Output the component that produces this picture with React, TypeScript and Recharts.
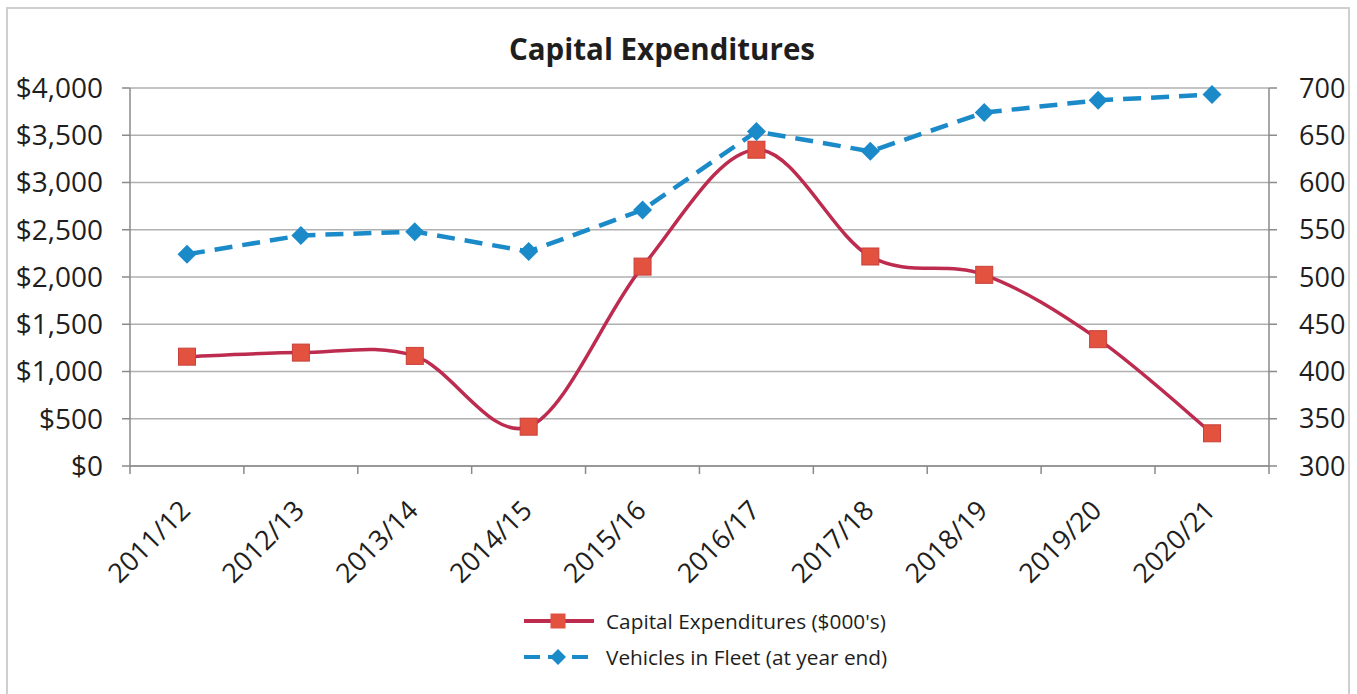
import React from "react";
import { LineChart, Line, XAxis, YAxis, CartesianGrid, Legend } from "recharts";

const years = ["2011/12", "2012/13", "2013/14", "2014/15", "2015/16", "2016/17", "2017/18", "2018/19", "2019/20", "2020/21"];
const capex = [1157, 1200, 1165, 416, 2110, 3347, 2217, 2023, 1342, 346];
const vehicles = [524, 544, 548, 527, 571, 654, 633, 674, 687, 693];
const leftTicks = [0, 500, 1000, 1500, 2000, 2500, 3000, 3500, 4000];
const rightTicks = [300, 350, 400, 450, 500, 550, 600, 650, 700];

const data = years.map((y, i) => ({ year: y, capex: capex[i], vehicles: vehicles[i] }));

const RED = "#bd2b4f";
const RED_FILL = "#e2523f";
const BLUE = "#1a8ac9";
const AXIS = "#8a8a8a";
const GRID = "#b0b0b0";
const FONT = "'Open Sans', sans-serif";

// Excel-like smoothed line (Catmull-Rom bezier)
const excelSmooth = (context: any) => {
  let pts: number[][] = [];
  return {
    areaStart() {},
    areaEnd() {},
    lineStart() {
      pts = [];
    },
    point(x: number, y: number) {
      pts.push([+x, +y]);
    },
    lineEnd() {
      if (!pts.length) return;
      context.moveTo(pts[0][0], pts[0][1]);
      for (let i = 0; i < pts.length - 1; i++) {
        const p0 = pts[i - 1] || pts[i];
        const p1 = pts[i];
        const p2 = pts[i + 1];
        const p3 = pts[i + 2] || pts[i + 1];
        context.bezierCurveTo(
          p1[0] + (p2[0] - p0[0]) / 6,
          p1[1] + (p2[1] - p0[1]) / 6,
          p2[0] - (p3[0] - p1[0]) / 6,
          p2[1] - (p3[1] - p1[1]) / 6,
          p2[0],
          p2[1]
        );
      }
    },
  };
};

const SquareDot = (props: any) => {
  const { cx, cy } = props;
  if (cx == null || cy == null) return null;
  const s = 17;
  return <rect x={cx - s / 2} y={cy - s / 2} width={s} height={s} fill={RED_FILL} stroke="#c8403a" strokeWidth={1} />;
};

const DiamondDot = (props: any) => {
  const { cx, cy } = props;
  if (cx == null || cy == null) return null;
  const r = 9.5;
  return <polygon points={`${cx},${cy - r} ${cx + r},${cy} ${cx},${cy + r} ${cx - r},${cy}`} fill={BLUE} />;
};

const HALF = 57;

const XTick = (props: any) => {
  const { x, y, index, visibleTicksCount } = props;
  const ax = x + 5;
  const ay = y + 46;
  return (
    <g>
      <line x1={x - HALF} x2={x - HALF} y1={y} y2={y + 8} stroke={AXIS} strokeWidth={1.5} />
      {index === (visibleTicksCount ?? years.length) - 1 && (
        <line x1={x + HALF} x2={x + HALF} y1={y} y2={y + 8} stroke={AXIS} strokeWidth={1.5} />
      )}
      <text
        x={ax}
        y={ay}
        transform={`rotate(-45, ${ax}, ${ay})`}
        textAnchor="end"
        fontSize={27}
        fontFamily={FONT}
        fill="#1e1e1e"
      >
        {props.payload.value}
      </text>
    </g>
  );
};

const LegendContent = () => (
  <div style={{ fontFamily: FONT, fontSize: 20.8, color: "#1e1e1e" }}>
    <div style={{ display: "flex", alignItems: "center", height: 36 }}>
      <svg width={80} height={24}>
        <line x1={2} x2={72} y1={12} y2={12} stroke={RED} strokeWidth={4} />
        <rect x={28.5} y={4.5} width={15} height={15} fill={RED_FILL} />
      </svg>
      <span style={{ marginLeft: 4 }}>Capital Expenditures ($000's)</span>
    </div>
    <div style={{ display: "flex", alignItems: "center", height: 36 }}>
      <svg width={80} height={24}>
        <line x1={2} x2={72} y1={12} y2={12} stroke={BLUE} strokeWidth={4} strokeDasharray="16 8" />
        <polygon points="36,4 44,12 36,20 28,12" fill={BLUE} />
      </svg>
      <span style={{ marginLeft: 4 }}>Vehicles in Fleet (at year end)</span>
    </div>
  </div>
);

export default function App() {
  return (
    <div style={{ position: "absolute", left: 0, top: 0, width: 1357, height: 694, background: "#fff", overflow: "hidden" }}>
      <div
        style={{
          position: "absolute",
          left: 6,
          top: 7,
          width: 1344,
          height: 720,
          border: "2px solid #cfcfcf",
          boxSizing: "border-box",
        }}
      />
      <div
        style={{
          position: "absolute",
          left: 0,
          width: 1324,
          top: 29,
          textAlign: "center",
          fontFamily: FONT,
          fontWeight: 700,
          fontSize: 29.5,
          color: "#1e1e1e",
          lineHeight: "40px",
        }}
      >
        Capital Expenditures
      </div>
      <div style={{ position: "absolute", left: 0, top: 0 }}>
        <LineChart width={1357} height={694} data={data} margin={{ top: 88, right: 0, left: 0, bottom: 0 }}>
          <CartesianGrid yAxisId="left" vertical={false} stroke={GRID} strokeWidth={1.5} />
          <XAxis
            dataKey="year"
            yAxisId="left"
            height={228}
            tick={<XTick />}
            tickLine={false}
            tickSize={0}
            tickMargin={0}
            padding={{ left: HALF, right: HALF }}
            axisLine={{ stroke: AXIS, strokeWidth: 1.5 }}
            interval={0}
          />
          <YAxis
            yAxisId="left"
            width={130}
            domain={[0, 4000]}
            ticks={leftTicks}
            tickFormatter={(v: number) => "$" + v.toLocaleString("en-US")}
            tick={{ fontSize: 28, fontFamily: FONT, fill: "#1e1e1e" }}
            tickSize={8}
            tickMargin={19}
            tickLine={{ stroke: AXIS, strokeWidth: 1.5 }}
            axisLine={{ stroke: AXIS, strokeWidth: 1.5 }}
          />
          <YAxis
            yAxisId="right"
            orientation="right"
            width={88}
            domain={[300, 700]}
            ticks={rightTicks}
            tick={{ fontSize: 27, fontFamily: FONT, fill: "#1e1e1e" }}
            tickSize={8}
            tickMargin={22}
            tickLine={{ stroke: AXIS, strokeWidth: 1.5 }}
            axisLine={{ stroke: AXIS, strokeWidth: 1.5 }}
          />
          <Legend
            layout="vertical"
            verticalAlign="middle"
            align="center"
            content={<LegendContent />}
            wrapperStyle={{ position: "absolute", left: 522, top: 603, width: "auto" }}
          />
          <Line
            yAxisId="left"
            dataKey="capex"
            name="Capital Expenditures ($000's)"
            type={excelSmooth as any}
            stroke={RED}
            strokeWidth={3.5}
            dot={<SquareDot />}
            activeDot={false}
            isAnimationActive={false}
          />
          <Line
            yAxisId="right"
            dataKey="vehicles"
            name="Vehicles in Fleet (at year end)"
            type="linear"
            stroke={BLUE}
            strokeWidth={4.5}
            strokeDasharray="18 10"
            dot={<DiamondDot />}
            activeDot={false}
            isAnimationActive={false}
          />
        </LineChart>
      </div>
    </div>
  );
}
